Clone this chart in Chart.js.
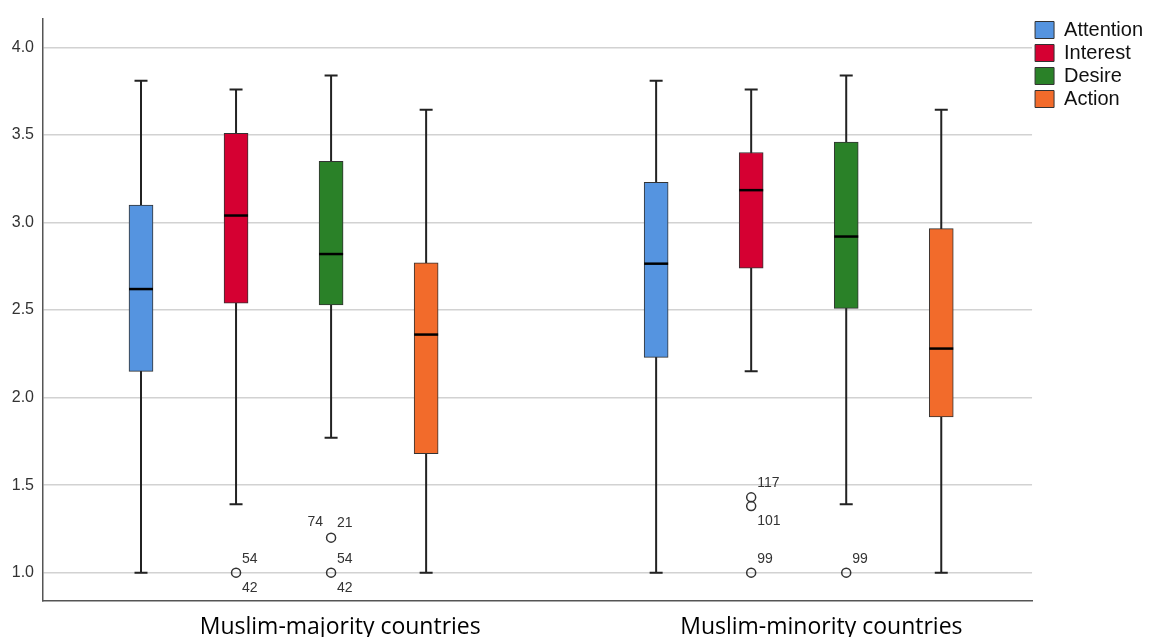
<!DOCTYPE html>
<html>
<head>
<meta charset="utf-8">
<script src="https://cdn.jsdelivr.net/npm/chart.js@4/dist/chart.umd.min.js"></script>
<style>
html,body{margin:0;padding:0;background:#fff;}
#wrap{width:1153px;height:637px;position:relative;}
</style>
</head>
<body>
<div id="wrap"><canvas id="c" width="1153" height="637"></canvas></div>
<script>
// ---- data ----
const categories = ["Muslim-majority countries", "Muslim-minority countries"];
const seriesNames = ["Attention", "Interest", "Desire", "Action"];
// per series: [majority, minority]
const whiskerMin = [[1.00, 1.00], [1.39, 2.15], [1.77, 1.39], [1.00, 1.00]];
const q1 =         [[2.15, 2.23], [2.54, 2.74], [2.53, 2.51], [1.68, 1.89]];
const median =     [[2.62, 2.765],[3.04, 3.185],[2.82, 2.92], [2.36, 2.28]];
const q3 =         [[3.10, 3.23], [3.51, 3.40], [3.35, 3.46], [2.77, 2.965]];
const whiskerMax = [[3.81, 3.81], [3.76, 3.76], [3.84, 3.84], [3.645, 3.645]];
// outliers
const outlierGroup  = [0, 0, 0, 1, 1, 1, 1];
const outlierSeries = [1, 2, 2, 1, 1, 1, 2];
const outlierValue  = [1.00, 1.20, 1.00, 1.43, 1.38, 1.00, 1.00];
const outlierIds    = [["54","42"], ["74","21"], ["54","42"], ["117"], ["101"], ["99"], ["99"]];
const yTicks = [1.0, 1.5, 2.0, 2.5, 3.0, 3.5, 4.0];

// ---- styles / layout ----
const colors = ["#5594E0", "#D50032", "#2A8128", "#F26B2B"];
const labelLayout = [["ar","br"], ["al","ar"], ["ar","br"], ["ar"], ["br"], ["ar"], ["ar"]];
const seriesOffset = i => (i - 1.5) * 0.1845;
const categoryLabelShift = [0.11, 0.044];

const boxDatasets = seriesNames.map((name, si) => ({
  type: 'bar',
  label: name,
  data: categories.map((c, gi) => ({ x: gi + seriesOffset(si), y: [q1[si][gi], q3[si][gi]] })),
  backgroundColor: colors[si],
  borderColor: '#333',
  borderWidth: 1,
  borderSkipped: false,
  barThickness: 24,
  grouped: false,
  order: 2
}));

const outlierDataset = {
  type: 'scatter',
  label: 'outliers',
  data: outlierValue.map((v, i) => ({ x: outlierGroup[i] + seriesOffset(outlierSeries[i]), y: v })),
  pointStyle: 'circle',
  pointRadius: 4.5,
  pointBackgroundColor: 'rgba(255,255,255,0)',
  pointBorderColor: '#333',
  pointBorderWidth: 1.5,
  order: 1
};

const boxPlugin = {
  id: 'boxParts',
  beforeDatasetsDraw(chart) {
    const ctx = chart.ctx, ys = chart.scales.y;
    ctx.save();
    ctx.strokeStyle = '#222';
    ctx.lineWidth = 2;
    seriesNames.forEach((n, si) => {
      const meta = chart.getDatasetMeta(si);
      meta.data.forEach((bar, gi) => {
        const x = bar.x;
        const yMin = ys.getPixelForValue(whiskerMin[si][gi]);
        const yMax = ys.getPixelForValue(whiskerMax[si][gi]);
        ctx.beginPath();
        ctx.moveTo(x, yMin); ctx.lineTo(x, yMax);
        ctx.moveTo(x - 6.5, yMin); ctx.lineTo(x + 6.5, yMin);
        ctx.moveTo(x - 6.5, yMax); ctx.lineTo(x + 6.5, yMax);
        ctx.stroke();
      });
    });
    ctx.restore();
  },
  afterDatasetsDraw(chart) {
    const ctx = chart.ctx, ys = chart.scales.y;
    ctx.save();
    ctx.strokeStyle = '#000';
    ctx.lineWidth = 2.5;
    seriesNames.forEach((n, si) => {
      const meta = chart.getDatasetMeta(si);
      meta.data.forEach((bar, gi) => {
        const y = ys.getPixelForValue(median[si][gi]);
        const hw = bar.width / 2;
        ctx.beginPath();
        ctx.moveTo(bar.x - hw, y); ctx.lineTo(bar.x + hw, y);
        ctx.stroke();
      });
    });
    // outlier labels
    const ometa = chart.getDatasetMeta(seriesNames.length);
    ctx.fillStyle = '#333';
    ctx.font = '14px "Liberation Sans", Arial, sans-serif';
    ctx.textBaseline = 'middle';
    ometa.data.forEach((pt, i) => {
      outlierIds[i].forEach((id, k) => {
        const pos = labelLayout[i][k];
        if (pos === 'ar') { ctx.textAlign = 'left'; ctx.fillText(id, pt.x + 6, pt.y - 14); }
        else if (pos === 'br') { ctx.textAlign = 'left'; ctx.fillText(id, pt.x + 6, pt.y + 15); }
        else if (pos === 'al') { ctx.textAlign = 'right'; ctx.fillText(id, pt.x - 8, pt.y - 15); }
      });
    });
    ctx.restore();
  }
};

new Chart(document.getElementById('c'), {
  type: 'bar',
  data: { datasets: [...boxDatasets, outlierDataset] },
  options: {
    responsive: false,
    animation: false,
    events: [],
    layout: { padding: { top: 17, left: 0, right: 0, bottom: 0 } },
    plugins: {
      tooltip: { enabled: false },
      legend: {
        position: 'right',
        align: 'start',
        labels: {
          filter: item => item.datasetIndex < seriesNames.length,
          boxWidth: 19,
          boxHeight: 17,
          padding: 3,
          color: '#111',
          font: { family: '"Liberation Sans", Arial, sans-serif', size: 20, lineHeight: 1 }
        }
      }
    },
    scales: {
      x: {
        type: 'linear',
        offset: false,
        min: -0.467,
        max: 1.453,
        grid: { display: false, drawTicks: false, offset: false },
        border: { display: true, color: '#555', width: 1.5 },
        afterBuildTicks: s => { s.ticks = categories.map((c, i) => ({ value: i + categoryLabelShift[i] })); },
        afterFit: s => { s.height = 36; },
        ticks: {
          autoSkip: false,
          maxRotation: 0,
          padding: 13,
          color: '#000',
          font: { family: '"Open Sans", sans-serif', size: 23 },
          callback: (v, i) => categories[i]
        }
      },
      y: {
        type: 'linear',
        min: 0.838,
        max: 4.165,
        grid: { color: '#d2d2d2', lineWidth: 1.5, drawTicks: false },
        border: { display: true, color: '#555', width: 1.5 },
        afterBuildTicks: s => { s.ticks = yTicks.map(v => ({ value: v })); },
        afterFit: s => { s.width = 43; },
        ticks: {
          padding: 9,
          color: '#333',
          font: { family: '"Liberation Sans", Arial, sans-serif', size: 16 },
          callback: v => Number(v).toFixed(1)
        }
      }
    }
  },
  plugins: [boxPlugin]
});
</script>
</body>
</html>
